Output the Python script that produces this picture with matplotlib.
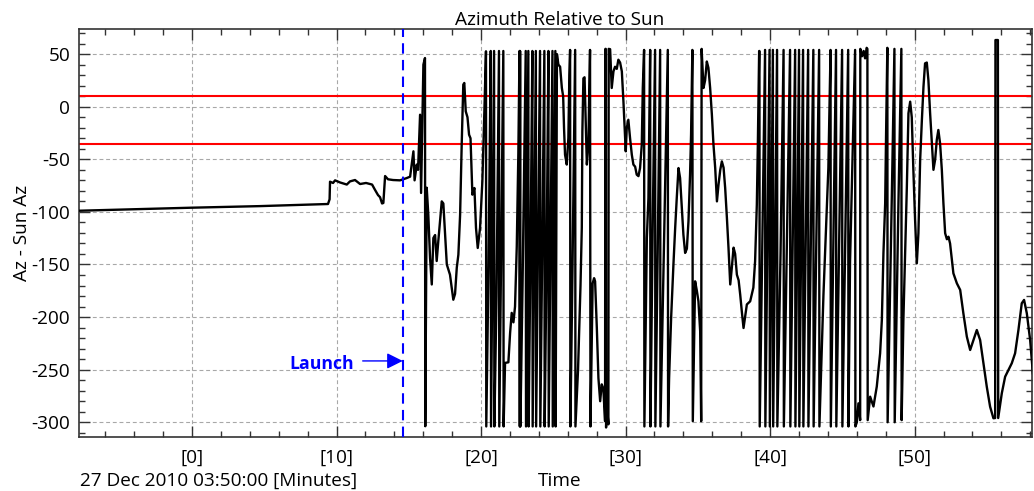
import numpy as np
import matplotlib
matplotlib.use("Agg")
import matplotlib.pyplot as plt
from matplotlib.ticker import MultipleLocator, FixedLocator

plt.rcParams['font.family'] = ['Open Sans', 'DejaVu Sans']
plt.rcParams['axes.unicode_minus'] = False

# ---- data: azimuth minus sun azimuth (deg) vs minutes after 03:50:00 ----
t_pre = [-7.84, 0.00, 4.71, 9.41, 9.52, 9.55, 9.76, 9.90, 10.24, 10.71, 10.93,
         11.28, 11.63, 12.04, 12.46, 12.66, 12.87, 13.01, 13.15, 13.24, 13.36,
         13.56, 13.91, 14.39]
az_pre = [-98.9, -96.0, -94.5, -92.5, -88.0, -71.3, -72.5, -70.0, -72.0, -74.0, -71.0,
          -69.7, -73.5, -72.5, -74.0, -79.0, -84.0, -86.0, -92.0, -91.5, -65.9,
          -69.0, -69.7, -70.0]

t_ascent = [14.86, 15.09, 15.32, 15.40, 15.55, 15.64, 15.78, 15.85, 16.01, 16.12,
            16.14, 16.24, 16.35, 16.47, 16.59, 16.70, 16.82, 16.93, 17.04, 17.28,
            17.39, 17.51, 17.63, 17.85, 18.08, 18.20, 18.32, 18.43, 18.55, 18.66,
            18.77, 18.84, 18.94, 19.06, 19.17, 19.27, 19.40, 19.54, 19.65, 19.77,
            19.93, 20.09, 20.16, 20.23, 20.34]
az_ascent = [-67.8, -66.5, -42.4, -70.0, -55.0, -60.0, -7.6, -82.0, 40.0, 46.3,
             -303.8, -77.0, -102.7, -143.8, -169.0, -124.8, -122.0, -146.7, -128.0, -90.0,
             -92.0, -121.7, -150.0, -159.7, -183.5, -178.0, -153.0, -140.7, -102.7, -36.0,
             21.0, 22.6, -4.4, -10.0, -26.6, -30.0, -83.6, -77.3, -115.3, -134.3,
             -115.3, -70.9, -39.0, -4.0, 52.7]

t_spin1 = [20.36, 20.52, 20.67, 20.69, 20.90, 20.92, 21.07, 21.24, 21.26, 21.54,
           21.56, 21.66, 21.89, 22.01, 22.12, 22.24, 22.35, 22.47, 22.58, 22.66,
           22.68, 22.70, 22.72, 22.87, 23.09, 23.11, 23.27, 23.29, 23.42, 23.55,
           23.57, 23.79, 23.81, 23.95, 24.08, 24.10, 24.38, 24.40, 24.53, 24.66,
           24.68, 24.94, 24.96, 25.14, 25.16, 25.25, 25.35, 25.47, 25.59, 25.68,
           25.74, 25.81, 25.93, 26.04, 26.11, 26.16, 26.18, 26.33, 26.51, 26.53,
           26.71, 26.88, 26.97, 27.01, 27.08, 27.16, 27.25, 27.32, 27.43, 27.48,
           27.54, 27.57]
az_spin1 = [-304.0, -150.0, 53.0, -304.0, 53.0, -304.0, -180.0, 53.0, -304.0, 53.0,
            -304.0, -243.6, -243.0, -215.0, -196.0, -205.0, -190.0, -133.0, -44.0, 53.0,
            -304.0, 53.0, -304.0, -170.0, 53.0, -304.0, 53.0, -304.0, -140.0, 53.0,
            -304.0, 53.0, -304.0, -120.0, 53.0, -304.0, 53.0, -304.0, -150.0, 53.0,
            -304.0, 53.0, -304.0, 53.0, -304.0, 50.0, 40.0, 38.0, 17.8, 10.0,
            -20.0, -45.6, -55.0, -29.8, 30.0, 54.0, -304.0, -150.0, 54.0, -304.0,
            -250.0, -170.0, -115.0, -23.4, 27.0, 28.0, -20.0, -55.0, -35.0, 10.0,
            54.0, -304.0]

t_drift1 = [27.72, 27.82, 27.89, 28.01, 28.12, 28.24, 28.35, 28.46, 28.58, 28.60,
            28.63, 28.65, 28.70, 28.81, 28.83, 28.93, 29.04, 29.16, 29.27, 29.39,
            29.50, 29.62, 29.74, 29.85, 29.97, 30.01, 30.08, 30.19, 30.31, 30.43,
            30.54, 30.66, 30.77, 30.89, 31.00, 31.12, 31.19, 31.28]
az_drift1 = [-168.0, -163.0, -166.0, -210.4, -258.0, -280.0, -264.0, -268.0, -299.0, 55.0,
             55.0, -305.0, -283.0, -302.0, 55.0, 54.7, 17.8, 33.6, 38.0, 36.0,
             44.7, 42.0, 33.6, 5.0, -29.8, -42.4, -20.3, -12.4, -30.0, -45.6,
             -55.0, -57.0, -64.6, -66.0, -58.3, -36.0, 17.8, 54.0]

t_spin2 = [31.30, 31.47, 31.58, 31.70, 31.72, 31.87, 32.04, 32.06, 32.22, 32.39,
           32.41, 32.92, 32.94, 33.01, 33.15, 33.31, 33.43, 33.54, 33.66, 33.77,
           33.89, 34.00, 34.12, 34.24, 34.35, 34.46, 34.53, 34.62, 34.65]
az_spin2 = [-304.0, -124.8, -86.8, 54.0, -304.0, -120.0, 54.0, -304.0, -140.0, 54.0,
            -304.0, 54.0, -304.0, -258.0, -200.9, -150.0, -115.3, -86.8, -58.3, -67.8,
            -96.3, -121.7, -139.0, -135.0, -109.0, -64.6, -26.6, 54.0, -299.0]

t_drift2 = [34.81, 34.93, 35.04, 35.16, 35.23, 35.26, 35.39, 35.50, 35.62, 35.73,
            35.85, 35.97, 36.08, 36.20, 36.32, 36.43, 36.55, 36.66, 36.78, 36.89,
            37.01, 37.12, 37.24, 37.35, 37.47, 37.58, 37.70, 37.82, 37.93, 38.04,
            38.16, 38.27, 38.39, 38.62, 38.84, 38.96, 39.08, 39.15, 39.24]
az_drift2 = [-166.0, -175.0, -185.0, -213.5, -299.0, 55.0, 17.8, 25.0, 43.0, 37.0,
             17.8, -7.6, -36.0, -58.3, -90.0, -74.0, -60.0, -52.0, -58.0, -77.3,
             -105.8, -134.3, -169.0, -153.0, -134.0, -140.0, -159.7, -165.0, -178.7, -194.5,
             -210.4, -200.0, -188.0, -185.0, -172.0, -147.0, -93.0, -36.0, 53.0]

t_spin3 = [39.26, 39.28, 39.65, 39.67, 39.96, 39.98, 40.19, 40.21, 40.48, 40.50,
           40.72, 40.93, 40.95, 41.17, 41.38, 41.40, 41.73, 41.75, 42.00, 42.02,
           42.28, 42.30, 42.63, 42.65, 42.99, 43.01, 43.39, 43.41, 43.69, 43.92,
           44.03, 44.18, 44.20, 44.56, 44.58, 44.98, 45.00, 45.40, 45.42, 45.53,
           45.88, 45.90, 46.00, 46.11, 46.23, 46.24, 46.36, 46.47, 46.57, 46.68,
           46.73, 46.75]
az_spin3 = [53.0, -304.0, 54.0, -304.0, 54.0, -304.0, 54.0, -304.0, 54.0, -304.0,
            -140.0, 54.0, -304.0, -120.0, 54.0, -304.0, 54.0, -304.0, 54.0, -304.0,
            54.0, -304.0, 54.0, -304.0, 54.0, -304.0, 54.0, -304.0, -178.7, -96.0,
            -58.0, 54.0, -304.0, 54.0, -304.0, 54.0, -304.0, 54.0, -304.0, -147.0,
            54.0, -304.0, -300.0, -282.0, -298.0, 55.0, 48.0, 53.0, 46.0, 56.0,
            55.0, -298.0]

t_drift3 = [46.92, 47.15, 47.38, 47.61, 47.73, 47.84, 47.96, 48.02, 48.11, 48.13,
            48.42, 48.60, 48.62, 48.88, 49.08, 49.10, 49.22, 49.34, 49.46, 49.57,
            49.69, 49.80, 49.91, 50.03, 50.15, 50.26, 50.38, 50.50, 50.61, 50.72,
            50.84, 50.95, 51.07, 51.19, 51.30, 51.42, 51.53, 51.64, 51.76, 51.88,
            51.99, 52.11, 52.23, 52.34, 52.45, 52.68, 52.92, 53.15, 53.37, 53.61,
            53.84, 54.07, 54.30, 54.53, 54.76, 54.99, 55.22, 55.45, 55.57, 55.59,
            55.76, 55.78, 56.03, 56.26, 56.49, 56.72, 56.95, 57.18, 57.41, 57.57,
            57.76, 57.99, 58.18, 58.27]
az_drift3 = [-275.7, -285.0, -266.0, -234.4, -202.8, -139.4, -91.8, -28.5, 56.0, -300.0,
             -85.0, 55.0, -300.0, -90.0, 55.0, -298.0, -203.0, -139.0, -76.0, -6.3,
             4.8, -10.0, -60.0, -107.7, -148.9, -120.3, -50.7, -12.6, 19.0, 41.2,
             42.0, 25.4, -6.3, -34.8, -60.0, -50.0, -31.6, -22.1, -35.0, -60.0,
             -91.8, -120.3, -126.0, -123.6, -130.0, -158.4, -167.9, -174.2, -196.4, -218.6,
             -231.3, -221.8, -212.3, -221.8, -243.9, -266.2, -285.2, -296.2, -296.0, 63.4,
             63.4, -296.0, -272.4, -256.7, -250.3, -243.9, -234.4, -212.3, -186.9, -183.7,
             -196.4, -221.8, -253.4, -262.0]

limit_levels = [10, -35]
launch_min = 14.58
x_ticks = [0, 10, 20, 30, 40, 50]
x_tick_labels = ['[0]', '[10]', '[20]', '[30]', '[40]', '[50]']
y_ticks = [-300, -250, -200, -150, -100, -50, 0, 50]

t = np.concatenate([t_pre, t_ascent, t_spin1, t_drift1, t_spin2, t_drift2, t_spin3, t_drift3])
az = np.concatenate([az_pre, az_ascent, az_spin1, az_drift1, az_spin2, az_drift2, az_spin3, az_drift3])

FS = 13.7

# ---- figure ----
fig = plt.figure(figsize=(10.34, 4.91), dpi=100)
ax = fig.add_axes([0.0761, 0.1094, 0.9224, 0.8309])

ax.grid(True, which='major', linestyle=(0, (3.5, 2.5)), color='#a8a8a8', linewidth=0.8)
ax.set_axisbelow(True)

for lvl in limit_levels:
    ax.axhline(lvl, color='#ff0000', linewidth=1.5, zorder=2)

ax.plot(t, az, color='black', linewidth=1.7, zorder=3)

ax.axvline(launch_min, color='#0000ff', linewidth=1.5, linestyle=(0, (5, 3)), zorder=4)
ax.annotate('', xy=(launch_min, -241.7), xytext=(11.81, -241.7),
            arrowprops=dict(arrowstyle='-|>', color='#0000ff', lw=1.0,
                            mutation_scale=24, shrinkA=0, shrinkB=0), zorder=5)
ax.text(11.23, -244.6, 'Launch', color='#0000ff', fontweight='bold', fontsize=12.7,
        ha='right', va='center', zorder=5)

ax.set_xlim(-7.84, 58.15)
ax.set_ylim(-314.3, 73.6)
ax.xaxis.set_major_locator(FixedLocator(x_ticks))
ax.set_xticklabels(x_tick_labels)
ax.xaxis.set_minor_locator(MultipleLocator(2))
ax.yaxis.set_major_locator(FixedLocator(y_ticks))
ax.yaxis.set_minor_locator(MultipleLocator(10))
ax.tick_params(which='both', direction='in', top=True, right=True, labelsize=FS,
               color='#333333')
ax.tick_params(which='major', length=8, width=1)
ax.tick_params(which='minor', length=4.5, width=1)
ax.tick_params(axis='x', pad=8)
ax.tick_params(axis='y', pad=6)
for s in ax.spines.values():
    s.set_color('#333333')
    s.set_linewidth(1.2)

ax.set_title('Azimuth Relative to Sun', fontsize=FS, pad=2, x=0.5046)
ax.set_ylabel('Az - Sun Az', fontsize=FS)
ax.yaxis.set_label_coords(-0.050, 0.5)
fig.text(80 / 1034, 1 - 481 / 491, '27 Dec 2010 03:50:00 [Minutes]', fontsize=FS,
         ha='left', va='center')
fig.text(560 / 1034, 1 - 481 / 491, 'Time', fontsize=FS, ha='center', va='center')

fig.savefig('out.png', dpi=100)
